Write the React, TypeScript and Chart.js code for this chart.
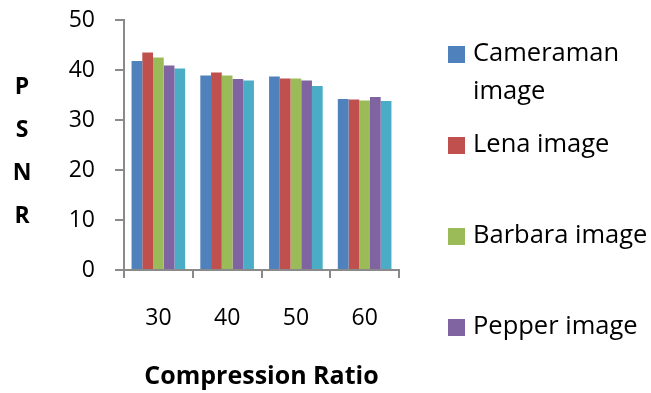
import React, { useEffect, useRef } from "react";
import { Chart, registerables } from "chart.js";

Chart.register(...registerables);

const categories = ["30", "40", "50", "60"];
const seriesNames = ["Cameraman image", "Lena image", "Barbara image", "Pepper image", "Baboon image"];
const cameraman = [41.8, 38.9, 38.7, 34.2];
const lena = [43.5, 39.5, 38.3, 34.1];
const barbara = [42.5, 38.9, 38.3, 33.9];
const pepper = [40.9, 38.2, 37.9, 34.6];
const baboon = [40.3, 37.9, 36.8, 33.8];
const colors = ["#4F81BD", "#C0504D", "#9BBB59", "#8064A2", "#4BACC6"];
const yTitleLetters = ["P", "S", "N", "R"];
const xTitle = "Compression Ratio";

const FONT = "'Open Sans', 'DejaVu Sans', sans-serif";
const AXIS = "#8a8a8a";

const overlay = {
  id: "overlay",
  afterDraw(chart: any) {
    const ctx = chart.ctx;
    const area = chart.chartArea;
    ctx.save();
    ctx.fillStyle = "#000";
    // y title letters
    ctx.font = `bold 23px ${FONT}`;
    ctx.textAlign = "center";
    ctx.textBaseline = "middle";
    yTitleLetters.forEach((ch, i) => {
      ctx.fillText(ch, 22, 87 + i * 43);
    });
    // x title
    ctx.font = `bold 25px ${FONT}`;
    ctx.fillText(xTitle, (area.left + area.right) / 2, 377);
    // legend
    ctx.textAlign = "left";
    ctx.font = `25.5px ${FONT}`;
    chart.data.datasets.forEach((ds: any, i: number) => {
      const cy = 54 + i * 91;
      ctx.fillStyle = ds.backgroundColor;
      ctx.fillRect(448, cy - 8, 17, 17);
      ctx.fillStyle = "#000";
      const label: string = ds.label;
      if (label.length > 13 && label.indexOf(" ") > 0) {
        const idx = label.lastIndexOf(" ");
        ctx.fillText(label.slice(0, idx), 473, cy);
        ctx.fillText(label.slice(idx + 1), 473, cy + 38);
      } else {
        ctx.fillText(label, 473, cy);
      }
    });
    ctx.restore();
  },
};

export default function App() {
  const ref = useRef<HTMLCanvasElement>(null);
  useEffect(() => {
    document.body.style.margin = "0";
    const values = [cameraman, lena, barbara, pepper, baboon];
    const chart = new Chart(ref.current!, {
      type: "bar",
      data: {
        labels: categories,
        datasets: values.map((v, i) => ({
          label: seriesNames[i],
          data: v,
          backgroundColor: colors[i],
          borderWidth: 0,
          categoryPercentage: 0.78,
          barPercentage: 1,
        })),
      },
      options: {
        responsive: false,
        animation: false,
        layout: { padding: { top: 20, right: 252, left: 0, bottom: 0 } },
        plugins: { legend: { display: false }, tooltip: { enabled: false } },
        scales: {
          x: {
            grid: {
              offset: true,
              drawOnChartArea: false,
              drawTicks: true,
              tickLength: 8,
              color: AXIS,
              lineWidth: 2,
            },
            border: { display: true, color: AXIS, width: 2 },
            ticks: { color: "#000", font: { family: FONT, size: 23 }, padding: 27 },
            afterFit: (s: any) => {
              s.height = 123;
              s.paddingLeft = 0;
              s.paddingRight = 0;
            },
          },
          y: {
            min: 0,
            max: 50,
            grid: {
              drawOnChartArea: false,
              drawTicks: true,
              tickLength: 9,
              color: AXIS,
              lineWidth: 2,
            },
            border: { display: true, color: AXIS, width: 2 },
            ticks: { stepSize: 10, color: "#000", font: { family: FONT, size: 23 }, padding: 20 },
            afterFit: (s: any) => {
              s.width = 124;
              s.paddingTop = 0;
              s.paddingBottom = 0;
            },
          },
        },
      },
      plugins: [overlay],
    });
    return () => chart.destroy();
  }, []);
  return (
    <div style={{ position: "fixed", left: 0, top: 0, width: 651, height: 393, background: "#fff" }}>
      <canvas ref={ref} width={651} height={393} style={{ width: 651, height: 393 }} />
    </div>
  );
}
